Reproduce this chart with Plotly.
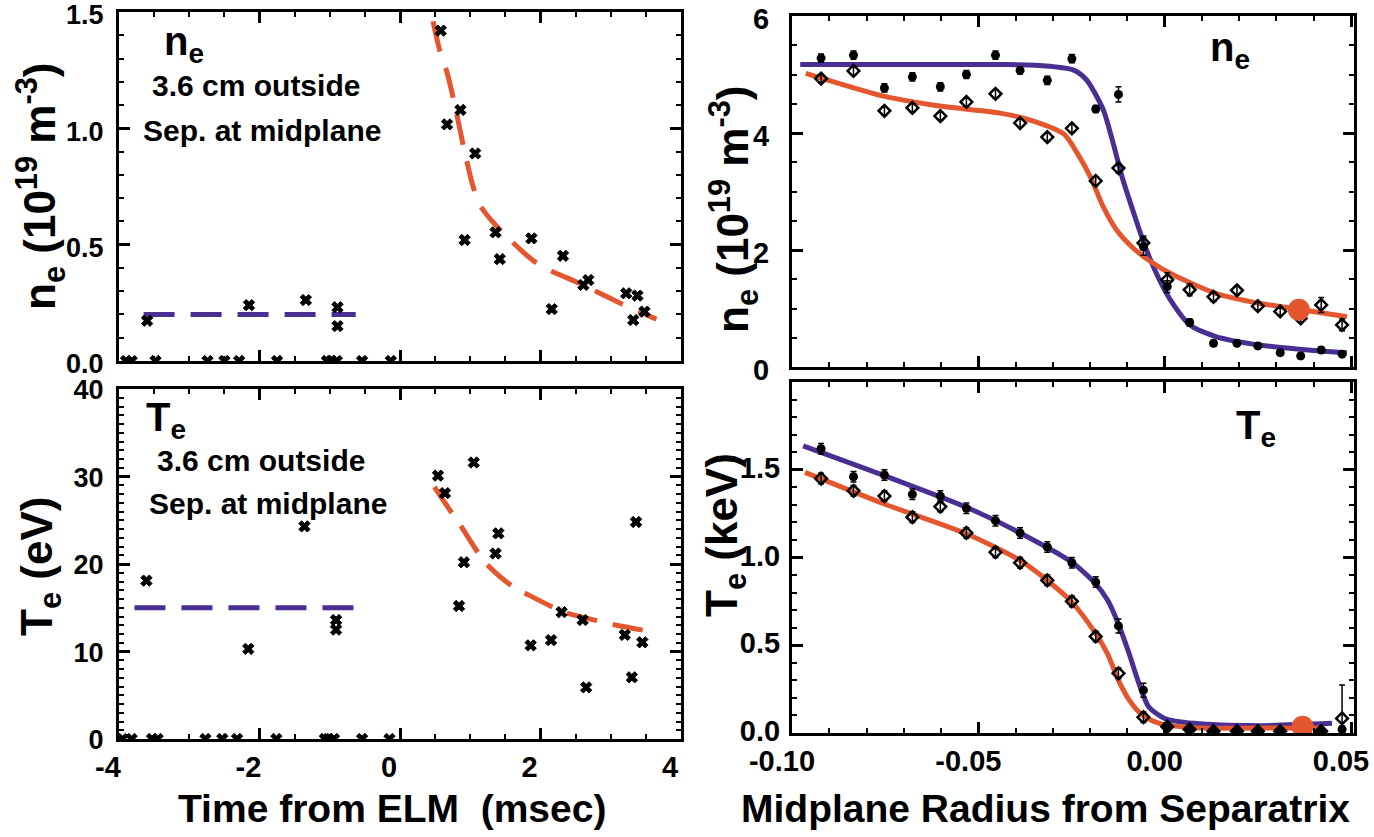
import plotly.graph_objects as go

# ---------------- data ----------------
# left panels: time from ELM (msec)
t_ne = [-3.90, -3.82, -3.48, -2.74, -2.50, -2.29, -1.75, -1.04, -0.98, -0.90, -0.54, -0.13,
        -3.60, -2.15, -1.34, -0.89, -0.89, 0.58, 0.67, 0.86, 0.92, 1.07, 1.36, 1.42, 1.87,
        2.16, 2.32, 2.61, 2.68, 3.22, 3.38, 3.32, 3.48]
ne_pts = [0, 0, 0, 0, 0, 0, 0, 0, 0, 0, 0, 0,
          0.173, 0.240, 0.262, 0.231, 0.150, 1.420, 1.017, 1.079, 0.520, 0.892, 0.553, 0.438, 0.527,
          0.223, 0.452, 0.327, 0.348, 0.291, 0.281, 0.176, 0.212]
ne_pre_t = [-3.65, -0.63]
ne_pre_v = [0.20, 0.20]
ne_fit_t = [0.47, 0.57, 0.67, 0.78, 0.92, 1.05, 1.16, 1.45, 1.95, 2.58, 3.16, 3.65]
ne_fit_v = [1.46, 1.33, 1.24, 1.10, 0.90, 0.74, 0.66, 0.556, 0.42, 0.33, 0.245, 0.18]

t_te = [-3.95, -3.82, -3.53, -3.45, -2.77, -2.53, -2.32, -1.76, -1.07, -1.02, -0.94, -0.54, -0.15,
        -3.61, -2.16, -1.36, -0.91, -0.91, 0.54, 0.64, 1.05, 0.91, 0.84, 1.40, 1.36, 1.86,
        2.15, 2.30, 2.60, 2.65, 3.20, 3.30, 3.36, 3.45]
te_pts = [0, 0, 0, 0, 0, 0, 0, 0, 0, 0, 0, 0, 0,
          18.1, 10.3, 24.3, 13.6, 12.5, 30.1, 28.1, 31.6, 20.2, 15.2, 23.5, 21.2, 10.7,
          11.3, 14.5, 13.6, 5.9, 11.9, 7.05, 24.8, 11.05]
te_pre_t = [-3.78, -0.64]
te_pre_v = [15.0, 15.0]
te_fit_t = [0.49, 0.74, 0.87, 1.12, 1.27, 1.61, 1.82, 2.22, 2.37, 2.87, 3.08, 3.56]
te_fit_v = [28.8, 25.8, 24.3, 21.2, 19.7, 17.4, 16.5, 14.9, 14.4, 13.4, 13.0, 12.3]

# right panels: midplane radius from separatrix (m)
r_pts = [-0.0922, -0.0835, -0.0752, -0.0677, -0.0602, -0.0532, -0.0454, -0.0388, -0.0315, -0.0249,
         -0.0185, -0.0124, -0.0057, 0.0007, 0.0067, 0.0131, 0.0194, 0.0250, 0.0310, 0.0365,
         0.0420, 0.0476]
ne_pre_pts = [5.28, 5.33, 4.77, 4.96, 4.79, 5.00, 5.33, 5.07, 4.90, 5.27, 4.41, 4.66, 2.06, 1.375,
              0.76, 0.405, 0.405, 0.36, 0.245, 0.19, 0.29, 0.22]
ne_pre_err = [0.07, 0.07, 0.07, 0.07, 0.07, 0.07, 0.07, 0.06, 0.07, 0.07, 0.06, 0.13, 0.15, 0.10,
              0.06, 0.05, 0.05, 0.05, 0.05, 0.05, 0.05, 0.05]
ne_post_pts = [4.93, 5.06, 4.38, 4.43, 4.29, 4.53, 4.67, 4.17, 3.93, 4.08, 3.18, 3.40, 2.12, 1.49,
               1.32, 1.20, 1.31, 1.04, 0.95, 0.83, 1.06, 0.72]
ne_post_err = [0.07, 0.07, 0.07, 0.07, 0.07, 0.07, 0.07, 0.07, 0.07, 0.07, 0.07, 0.08, 0.12, 0.12,
               0.10, 0.08, 0.07, 0.07, 0.06, 0.06, 0.13, 0.10]
te_pre_pts = [1.62, 1.46, 1.47, 1.36, 1.35, 1.28, 1.21, 1.14, 1.06, 0.97, 0.86, 0.61, 0.244, 0.03,
              0.02, 0.015, 0.015, 0.01, 0.01, 0.01, 0.01, 0.02]
te_pre_err = [0.03, 0.03, 0.03, 0.03, 0.03, 0.03, 0.03, 0.03, 0.03, 0.03, 0.03, 0.04, 0.04, 0.02,
              0.01, 0.01, 0.01, 0.01, 0.01, 0.01, 0.01, 0.02]
te_post_pts = [1.45, 1.38, 1.35, 1.23, 1.29, 1.14, 1.03, 0.97, 0.87, 0.75, 0.55, 0.34, 0.09, 0.036,
               0.02, 0.01, 0.01, 0.01, 0.01, 0.01, 0.01, 0.083]
te_post_err_up = [0.03, 0.03, 0.03, 0.03, 0.03, 0.03, 0.03, 0.03, 0.03, 0.03, 0.03, 0.03, 0.03, 0.02,
                  0.01, 0.01, 0.01, 0.01, 0.01, 0.01, 0.01, 0.19]
te_post_err_dn = [0.03, 0.03, 0.03, 0.03, 0.03, 0.03, 0.03, 0.03, 0.03, 0.03, 0.03, 0.03, 0.03, 0.02,
                  0.01, 0.01, 0.01, 0.01, 0.01, 0.01, 0.01, 0.06]

ne_pre_fit_r = [-0.0978, -0.070, -0.045, -0.035, -0.0246, -0.021, -0.0165, -0.0141, -0.0112, -0.0083,
                -0.0049, -0.0014, 0.0021, 0.0067, 0.0137, 0.0253, 0.0368, 0.0489]
ne_pre_fit_v = [5.17, 5.17, 5.17, 5.16, 5.08, 4.91, 4.40, 3.89, 3.20, 2.63, 2.00, 1.49, 1.09, 0.72,
                0.52, 0.377, 0.30, 0.245]
ne_post_fit_r = [-0.0963, -0.0754, -0.0604, -0.0442, -0.035, -0.027, -0.0235, -0.020, -0.0165, -0.013,
                 -0.0084, -0.0037, 0.0021, 0.0137, 0.0253, 0.0368, 0.0489]
ne_post_fit_v = [5.02, 4.63, 4.46, 4.34, 4.20, 3.98, 3.66, 3.26, 2.74, 2.35, 2.03, 1.80, 1.58, 1.26,
                 1.09, 0.98, 0.86]
te_pre_fit_r = [-0.097, -0.0752, -0.0532, -0.0388, -0.0249, -0.0185, -0.0153, -0.0124, -0.0095, -0.0072,
                -0.0043, 0.0, 0.0079, 0.025, 0.0449]
te_pre_fit_v = [1.636, 1.466, 1.286, 1.14, 0.973, 0.85, 0.756, 0.62, 0.45, 0.30, 0.15, 0.083, 0.055,
                0.042, 0.055]
te_post_fit_r = [-0.0965, -0.0752, -0.0532, -0.0388, -0.0315, -0.0249, -0.0185, -0.0153, -0.0124, -0.0095,
                 -0.006, -0.0014, 0.0079, 0.025, 0.0414]
te_post_fit_v = [1.485, 1.305, 1.135, 0.983, 0.869, 0.746, 0.566, 0.45, 0.30, 0.1875, 0.102, 0.055,
                 0.03, 0.028, 0.028]

probe_r = [0.0360]
probe_ne = [0.98]
probe_te_r = [0.0370]
probe_te = [0.036]

time_ticks = [-4, -2, 0, 2, 4]
time_labels = ["-4", "-2", "0", "2", "4"]
r_ticks = [-0.10, -0.05, 0.00, 0.05]
r_labels = ["-0.10", "-0.05", "0.00", "0.05"]
ne_l_ticks = [0.0, 0.5, 1.0, 1.5]
ne_l_labels = ["0.0", "0.5", "1.0", "1.5"]
te_l_ticks = [0, 10, 20, 30, 40]
te_l_labels = ["0", "10", "20", "30", "40"]
ne_r_ticks = [0, 2, 4, 6]
ne_r_labels = ["0", "2", "4", "6"]
te_r_ticks = [0.0, 0.5, 1.0, 1.5, 2.0]
te_r_labels = ["0.0", "0.5", "1.0", "1.5", " "]

# ---------------- style ----------------
FONT = "Liberation Sans, Arial, Helvetica, sans-serif"
BLUE = "#4a2f93"
RED = "#e4572e"
W, H = 1374, 837

fig = go.Figure()

pt_marker = dict(symbol="x", size=10, color="black", line=dict(width=1, color="black"))

# top-left: ne vs time
fig.add_trace(go.Scatter(x=ne_pre_t, y=ne_pre_v, mode="lines", xaxis="x", yaxis="y",
                         line=dict(color=BLUE, width=5, dash="31px,16px")))
fig.add_trace(go.Scatter(x=ne_fit_t, y=ne_fit_v, mode="lines", xaxis="x", yaxis="y",
                         line=dict(color=RED, width=5, dash="31px,17px", shape="spline", smoothing=0.8)))
fig.add_trace(go.Scatter(x=t_ne, y=ne_pts, mode="markers", xaxis="x", yaxis="y", marker=pt_marker))

# bottom-left: Te vs time
fig.add_trace(go.Scatter(x=te_pre_t, y=te_pre_v, mode="lines", xaxis="x3", yaxis="y3",
                         line=dict(color=BLUE, width=5, dash="31px,16px")))
fig.add_trace(go.Scatter(x=te_fit_t, y=te_fit_v, mode="lines", xaxis="x3", yaxis="y3",
                         line=dict(color=RED, width=5, dash="31px,16px", shape="spline", smoothing=0.8)))
fig.add_trace(go.Scatter(x=t_te, y=te_pts, mode="markers", xaxis="x3", yaxis="y3", marker=pt_marker))

# top-right: ne profiles
fig.add_trace(go.Scatter(x=ne_pre_fit_r, y=ne_pre_fit_v, mode="lines", xaxis="x2", yaxis="y2",
                         line=dict(color=BLUE, width=5, shape="spline", smoothing=0.7)))
fig.add_trace(go.Scatter(x=ne_post_fit_r, y=ne_post_fit_v, mode="lines", xaxis="x2", yaxis="y2",
                         line=dict(color=RED, width=5, shape="spline", smoothing=0.7)))
fig.add_trace(go.Scatter(x=r_pts, y=ne_pre_pts, mode="markers", xaxis="x2", yaxis="y2",
                         marker=dict(symbol="circle", size=9, color="black"),
                         error_y=dict(type="data", array=ne_pre_err, color="black", thickness=1.5, width=3)))
fig.add_trace(go.Scatter(x=r_pts, y=ne_post_pts, mode="markers", xaxis="x2", yaxis="y2",
                         marker=dict(symbol="diamond-open", size=9, color="black", line=dict(width=2.5)),
                         error_y=dict(type="data", array=ne_post_err, color="black", thickness=1.5, width=3)))
fig.add_trace(go.Scatter(x=probe_r, y=probe_ne, mode="markers", xaxis="x2", yaxis="y2",
                         marker=dict(symbol="circle", size=22, color=RED)))

# bottom-right: Te profiles
fig.add_trace(go.Scatter(x=te_pre_fit_r, y=te_pre_fit_v, mode="lines", xaxis="x4", yaxis="y4",
                         line=dict(color=BLUE, width=5, shape="spline", smoothing=0.7)))
fig.add_trace(go.Scatter(x=te_post_fit_r, y=te_post_fit_v, mode="lines", xaxis="x4", yaxis="y4",
                         line=dict(color=RED, width=5, shape="spline", smoothing=0.7)))
fig.add_trace(go.Scatter(x=r_pts, y=te_pre_pts, mode="markers", xaxis="x4", yaxis="y4",
                         marker=dict(symbol="circle", size=9, color="black"),
                         error_y=dict(type="data", array=te_pre_err, color="black", thickness=1.5, width=3)))
fig.add_trace(go.Scatter(x=r_pts, y=te_post_pts, mode="markers", xaxis="x4", yaxis="y4",
                         marker=dict(symbol="diamond-open", size=9, color="black", line=dict(width=2.5)),
                         error_y=dict(type="data", array=te_post_err_up, arrayminus=te_post_err_dn,
                                      symmetric=False, color="black", thickness=1.5, width=3)))
fig.add_trace(go.Scatter(x=probe_te_r, y=probe_te, mode="markers", xaxis="x4", yaxis="y4",
                         marker=dict(symbol="circle", size=22, color=RED)))


def axis(domain, rng, tickvals, ticktext, minor_dtick, minor_tick0, anchor, show_labels=True,
         standoff=0, shift=0, size=29):
    return dict(domain=domain, range=rng, anchor=anchor, showline=True, linecolor="black", linewidth=3,
                mirror="allticks", ticks="inside", ticklen=11, tickwidth=2.5, tickcolor="black",
                tickmode="array", tickvals=tickvals, ticktext=ticktext,
                showticklabels=show_labels, ticklabelstandoff=standoff, ticklabelshift=shift,
                ticklabeloverflow="allow",
                tickfont=dict(family=FONT, size=size, color="black", weight="bold"),
                showgrid=False, zeroline=False, automargin=False,
                minor=dict(ticks="inside", ticklen=5, tickwidth=2, tickcolor="black",
                           dtick=minor_dtick, tick0=minor_tick0, showgrid=False))


XL = [119 / W, 681 / W]
XR = [792 / W, 1354 / W]

fig.update_layout(
    width=W, height=H, margin=dict(l=0, r=0, t=0, b=0),
    paper_bgcolor="white", plot_bgcolor="white", showlegend=False,
    xaxis=axis(XL, [-4, 4], time_ticks, time_labels, 0.5, 0, "y", show_labels=False),
    yaxis=axis([1 - 361 / H, 1 - 12 / H], [0, 1.5], ne_l_ticks, ne_l_labels, 0.1, 0, "x",
               standoff=7, shift=3, size=27),
    xaxis2=axis(XR, [-0.1, 0.0508], r_ticks, r_labels, 0.01, 0, "y2", show_labels=False),
    yaxis2=axis([1 - 367 / H, 1 - 16 / H], [0, 6], ne_r_ticks, ne_r_labels, 0.5, 0, "x2",
                standoff=14, shift=3),
    xaxis3=axis(XL, [-4, 4], time_ticks, time_labels, 0.5, 0, "y3", standoff=0, shift=-11),
    yaxis3=axis([1 - 739 / H, 1 - 389 / H], [0, 40], te_l_ticks, te_l_labels, 1, 0, "x3",
                standoff=7, shift=1, size=27),
    xaxis4=axis(XR, [-0.1, 0.0508], r_ticks, r_labels, 0.01, 0, "y4", standoff=0, shift=-10),
    yaxis4=axis([1 - 733 / H, 1 - 382 / H], [0, 2.0], te_r_ticks, te_r_labels, 0.1, 0, "x4",
                standoff=3, shift=-2),
)


def ann(text, px, py, size, angle=0):
    fig.add_annotation(text=text, x=px / W, y=1 - py / H, xref="paper", yref="paper",
                       showarrow=False, xanchor="center", yanchor="middle", textangle=angle,
                       font=dict(family=FONT, size=size, color="black", weight="bold"))


# panel labels
ann("n<sub>e</sub>", 184, 44, 40)
ann("3.6 cm outside", 256, 85, 30)
ann("Sep. at midplane", 262, 130, 30)
ann("T<sub>e</sub>", 166, 420, 40)
ann("3.6 cm outside", 261, 460, 30)
ann("Sep. at midplane", 268, 503, 30)
ann("n<sub>e</sub>", 1230, 50, 40)
ann("T<sub>e</sub>", 1256, 428, 40)

# axis titles
ann("n<sub>e</sub> (10<sup>19</sup> m<sup>-3</sup>)", 40, 186, 44, -90)
ann("T<sub>e</sub> (eV)", 40, 567, 44, -90)
ann("n<sub>e</sub> (10<sup>19</sup> m<sup>-3</sup>)", 733, 209, 44, -90)
ann("T<sub>e</sub> (keV)", 725, 535, 44, -90)
ann("Time from ELM&nbsp; (msec)", 392, 808, 39)
ann("Midplane Radius from Separatrix", 1045, 808, 39)

fig.write_html("out.html")
